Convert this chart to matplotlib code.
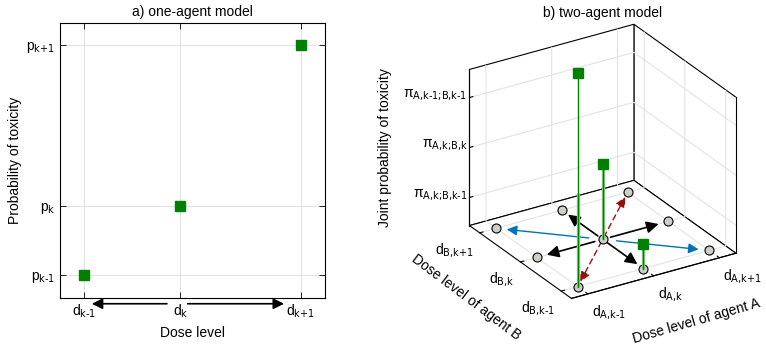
import numpy as np
import matplotlib
matplotlib.use('Agg')
import matplotlib.pyplot as plt
from matplotlib.patches import FancyArrowPatch
from mpl_toolkits.mplot3d import proj3d

plt.rcParams['font.family'] = ['Liberation Sans', 'DejaVu Sans']
plt.rcParams['font.size'] = 10
plt.rcParams['mathtext.default'] = 'regular'
plt.rcParams['grid.color'] = '#e3e3e3'
plt.rcParams['grid.linewidth'] = 0.8

# a) one-agent model
dose = [0.1, 0.5, 1.0]
prob = [0.09, 0.365, 1.01]
dose_labels = [r'$d_{\text{k-1}}$', r'$d_{\text{k}}$', r'$d_{\text{k+1}}$']
prob_labels = [r'$p_{\text{k-1}}$', r'$p_{\text{k}}$', r'$p_{\text{k+1}}$']

# b) two-agent model (dose level indices)
levels_a = [1, 2, 3]
levels_b = [1, 2, 3]
a_labels = [r'$d_{\text{A,k-1}}$', r'$d_{\text{A,k}}$', r'$d_{\text{A,k+1}}$']
b_labels = [r'$d_{\text{B,k-1}}$', r'$d_{\text{B,k}}$', r'$d_{\text{B,k+1}}$']
z_ticks = [0.18, 0.5, 0.82]
z_labels = [r'$\pi_{\text{A,k;B,k-1}}$', r'$\pi_{\text{A,k;B,k}}$',
            r'$\pi_{\text{A,k-1;B,k-1}}$']
obs_a = [1, 2, 2]
obs_b = [1, 2, 1]
obs_z = [1.37, 0.485, 0.16]
centre = (2, 2)
black_moves = [(2, 3), (1, 2), (3, 2), (2, 1)]
blue_moves = [(1, 3), (3, 1)]
red_moves = [(3, 3), (1, 1)]

green = (0, 0.5, 0)


class Arrow3D(FancyArrowPatch):
    def __init__(self, xs, ys, zs, *args, **kwargs):
        super().__init__((0, 0), (0, 0), *args, **kwargs)
        self._verts3d = xs, ys, zs

    def do_3d_projection(self, renderer=None):
        xs3d, ys3d, zs3d = self._verts3d
        xs, ys, zs = proj3d.proj_transform(xs3d, ys3d, zs3d, self.axes.M)
        self.set_positions((xs[0], ys[0]), (xs[1], ys[1]))
        return np.min(zs)


fig = plt.figure(figsize=(7.66, 3.46), dpi=100)

# ---- left panel
ax = fig.add_axes([0.0783, 0.1396, 0.346, 0.795])
ax.plot(dose, prob, 's', color=green, ms=6.5, zorder=3)
ax.set_xlim(0, 1.1)
ax.set_ylim(0, 1.1)
ax.set_xticks(dose, dose_labels)
ax.set_yticks(prob, prob_labels)
ax.grid(True)
ax.tick_params(direction='in', top=True, right=True, length=4, width=0.6)
for s in ax.spines.values():
    s.set_linewidth(0.8)
ax.set_xlabel('Dose level', labelpad=4)
ax.set_ylabel('Probability of toxicity', labelpad=3)
ax.set_title('a) one-agent model', fontsize=10, pad=5)

for target, t0, t1 in [(dose[0], 0.14, 0.92), (dose[2], 0.06, 0.86)]:
    x0 = dose[1] + t0 * (target - dose[1])
    x1 = dose[1] + t1 * (target - dose[1])
    ax.annotate('', xy=(x1, -0.022), xytext=(x0, -0.022),
                xycoords=('data', 'axes fraction'),
                textcoords=('data', 'axes fraction'),
                annotation_clip=False,
                arrowprops=dict(arrowstyle='-|>', color='k', lw=1.2,
                                mutation_scale=16, shrinkA=0, shrinkB=0))

# ---- right panel
ax2 = fig.add_axes([0.5157, 0.0202, 0.53, 1.0], projection='3d')
ax2.set_proj_type('ortho')
ax2.view_init(elev=26.3, azim=-121.8)
ax2.set_box_aspect((1, 1, 0.9), zoom=0.91)
ax2.computed_zorder = False

ax2.set_xlim(0.75, 3.25)
ax2.set_ylim(0.75, 3.25)
ax2.set_zlim(0, 1)
ax2.set_xticks(levels_a, a_labels, ha='left')
ax2.set_yticks(levels_b, b_labels, ha='right')
ax2.set_zticks(z_ticks, z_labels, ha='right', va='baseline')
for axis in (ax2.xaxis, ax2.yaxis, ax2.zaxis):
    axis.set_pane_color((1, 1, 1, 1))
    axis.pane.set_edgecolor('k')
    axis.pane.set_linewidth(0.8)
    axis.line.set_color('k')
    axis.line.set_linewidth(0.8)
    axis._axinfo['tick']['inward_factor'] = 0.0
    axis._axinfo['tick']['outward_factor'] = 0.25
ax2.tick_params(axis='x', pad=-3)
ax2.tick_params(axis='y', pad=-3)
ax2.tick_params(axis='z', pad=-7)

# vertical box edges
x0, x1 = ax2.get_xlim()
y0, y1 = ax2.get_ylim()
z0, z1 = ax2.get_zlim()
ax2.plot([x0, x0], [y1, y1], [z0, z1], color='k', lw=0.8, zorder=1)
ax2.plot([x1, x1], [y0, y0], [z0, z1], color='k', lw=0.8, zorder=1)

fig.text(603 / 766, 1 - 13 / 346, 'b) two-agent model', ha='center', va='center')
fig.text(696 / 766, 1 - 321 / 346, 'Dose level of agent A', ha='center',
         va='center', rotation=16, rotation_mode='anchor')
fig.text(466 / 766, 1 - 297 / 346, 'Dose level of agent B', ha='center',
         va='center', rotation=-37, rotation_mode='anchor')
fig.text(385 / 766, 1 - 148 / 346, 'Joint probability of toxicity', ha='center',
         va='center', rotation=90, rotation_mode='anchor')


def move(target, color, t0, t1, ls='-', lw=1.0, ms=14):
    da = target[0] - centre[0]
    db = target[1] - centre[1]
    arr = Arrow3D([centre[0] + t0 * da, centre[0] + t1 * da],
                  [centre[1] + t0 * db, centre[1] + t1 * db],
                  [0, 0], arrowstyle='-|>', color=color, lw=lw,
                  linestyle=ls, mutation_scale=ms, shrinkA=0, shrinkB=0,
                  zorder=3)
    ax2.add_artist(arr)


for tgt in black_moves:
    move(tgt, 'k', 0.12, 0.85, lw=1.2, ms=18)
for tgt in blue_moves:
    move(tgt, '#0072BD', 0.13, 0.9, lw=1.0, ms=15)
for tgt in red_moves:
    move(tgt, '#9b0d0d', 0.05, 0.9, ls=(0, (4, 3)), lw=1.0, ms=15)

ga, gb = np.meshgrid(levels_a, levels_b)
ax2.plot(ga.ravel(), gb.ravel(), np.zeros(ga.size), 'o', ls='none',
         mfc='#d0cec9', mec='k', mew=0.8, ms=6.5, zorder=4)

for a, b, z in zip(obs_a, obs_b, obs_z):
    ax2.plot([a, a], [b, b], [0, min(z, 0.6)], color='#8fcf8f', lw=2.4,
             zorder=5, solid_capstyle='butt')
    ax2.plot([a, a], [b, b], [0, z], color=green, lw=1.0, zorder=6)
ax2.plot(obs_a, obs_b, obs_z, 's', ls='none', color=green, ms=6.5, zorder=7)

fig.savefig('out.png', dpi=100)
